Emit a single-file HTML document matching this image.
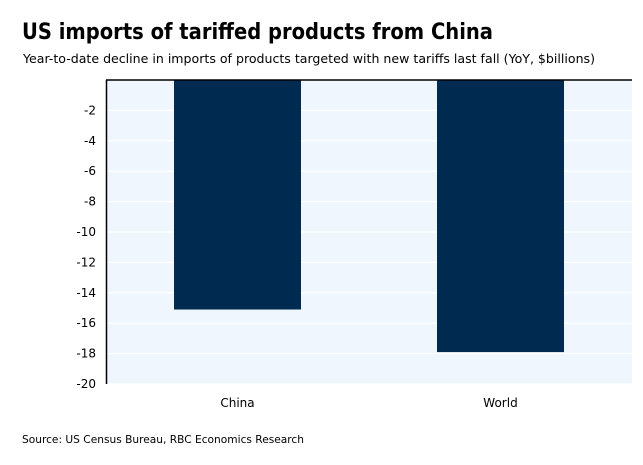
<!DOCTYPE html>
<html><head><meta charset="utf-8"><style>
body{margin:0;background:#fff;width:643px;height:461px;overflow:hidden;font-family:"DejaVu Sans","Liberation Sans",sans-serif;}
svg text{font-family:"DejaVu Sans","Liberation Sans",sans-serif;}
</style></head><body>
<svg width="643" height="461">
<text x="22" y="39" font-size="22" font-weight="bold" fill="#000" textLength="471" lengthAdjust="spacingAndGlyphs">US imports of tariffed products from China</text>
<text x="23" y="63" font-size="12" fill="#000" textLength="572" lengthAdjust="spacingAndGlyphs">Year-to-date decline  in imports of products targeted with new tariffs last fall (YoY, $billions)</text>
<rect x="106" y="80" width="526" height="304" fill="#eff6fd"/>
<g id="grid"></g>
<g id="bars"></g>
<line x1="106" y1="80" x2="632" y2="80" stroke="#000" stroke-width="1.5"/>
<line x1="106.5" y1="80" x2="106.5" y2="384" stroke="#000" stroke-width="1.5"/>
<g id="ticks"></g>
<g id="xlabels"></g>
<text x="22" y="443" font-size="11" fill="#000" textLength="282" lengthAdjust="spacingAndGlyphs">Source: US Census Bureau, RBC Economics Research</text>
</svg>
<script>
const categories=["China","World"];
const values=[-15.1,-17.9];
const yTicks=[-2,-4,-6,-8,-10,-12,-14,-16,-18,-20];
const NS="http://www.w3.org/2000/svg";
const plotL=106,plotR=632,plotT=80,plotB=384,yMin=-20,yMax=0;
function y(v){return plotT+(yMax-v)/(yMax-yMin)*(plotB-plotT);}
const band=(plotR-plotL)/categories.length;
function xc(i){return plotL+band*(i+0.5);}
const grid=document.getElementById('grid'),ticks=document.getElementById('ticks'),bars=document.getElementById('bars'),xl=document.getElementById('xlabels');
yTicks.forEach(t=>{
 const l=document.createElementNS(NS,'line');
 l.setAttribute('x1',plotL);l.setAttribute('x2',plotR);l.setAttribute('y1',y(t));l.setAttribute('y2',y(t));
 l.setAttribute('stroke','#fff');l.setAttribute('stroke-width','1.2');
 
 
 grid.appendChild(l);
 const tx=document.createElementNS(NS,'text');
 tx.setAttribute('x',96);tx.setAttribute('y',y(t)+4);tx.setAttribute('text-anchor','end');tx.setAttribute('font-size','12');
 tx.textContent=t;
 
 
 ticks.appendChild(tx);
});
const bw=127;
categories.forEach((c,i)=>{
 const r=document.createElementNS(NS,'rect');
 r.setAttribute('x',xc(i)-bw/2);r.setAttribute('y',y(0));r.setAttribute('width',bw);r.setAttribute('height',y(values[i])-y(0));
 r.setAttribute('fill','#002a4f');
 
 
 bars.appendChild(r);
 const tx=document.createElementNS(NS,'text');
 tx.setAttribute('x',xc(i));tx.setAttribute('y',407);tx.setAttribute('text-anchor','middle');tx.setAttribute('font-size','12');
 tx.textContent=c;
 
 
 xl.appendChild(tx);
});
</script>
</body></html>
